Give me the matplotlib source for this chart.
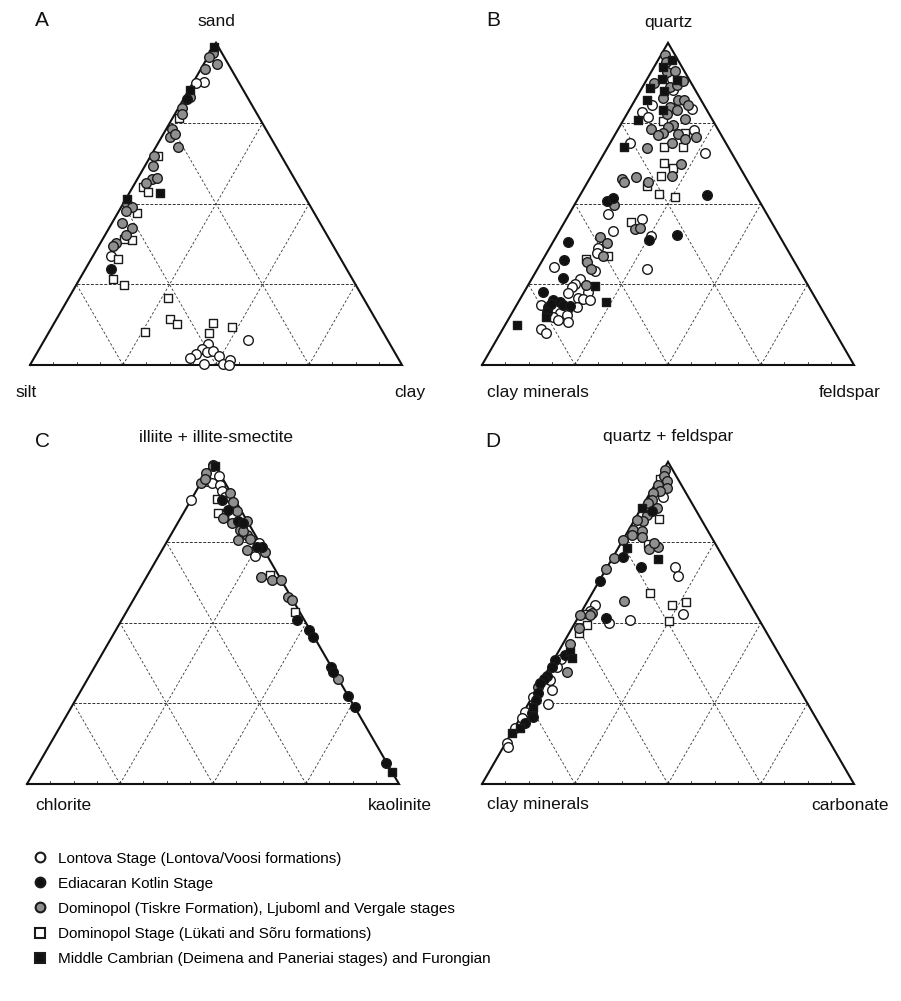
import numpy as np
import matplotlib
matplotlib.use("Agg")
import matplotlib.pyplot as plt
from matplotlib.lines import Line2D

plt.rcParams['font.family'] = ['Liberation Sans', 'DejaVu Sans']

# ---------------- Panel A: sand (top), clay (right), silt = rest (%) ----------------
a_lontova_sand = [87.8, 87.5, 33.9, 7.8, 6.4, 4.9, 3.3, 2.3, 4.1, 4.3, 2.9, 0.3, 0.2, 1.6, 0.0]
a_lontova_clay = [2.9, 0.9, 4.8, 54.8, 44.7, 43.7, 43.0, 41.9, 45.4, 47.1, 49.4, 46.6, 51.9, 53.0, 53.6]
a_kotlin_sand = [82.5, 29.7]
a_kotlin_clay = [0.9, 6.8]
a_tiskre_sand = [96.8, 95.6, 93.5, 91.8, 83.3, 79.7, 78.0, 73.2, 70.9, 71.7, 67.8, 64.9, 61.9, 57.7,
                 58.0, 56.6, 50.0, 48.9, 47.8, 44.0, 42.6, 40.4, 38.0, 37.0]
a_tiskre_clay = [0.7, 0.4, 3.4, 1.1, 1.4, 0.9, 1.8, 1.7, 2.2, 3.1, 6.0, 0.9, 2.0, 3.9,
                 5.1, 2.9, 1.2, 2.9, 1.9, 2.8, 6.0, 5.6, 4.1, 3.9]
a_lukati_sand = [76.6, 65.0, 55.1, 53.8, 47.1, 38.8, 39.1, 32.8, 26.6, 24.8, 20.7, 14.2, 12.7, 10.2, 13.0, 10.0, 11.9]
a_lukati_clay = [1.8, 2.0, 2.7, 4.9, 5.1, 7.9, 5.8, 7.2, 8.9, 12.9, 26.8, 30.5, 33.2, 25.8, 42.6, 43.1, 48.3]
a_middle_sand = [98.8, 85.4, 53.5, 51.5]
a_middle_clay = [0.1, 0.3, 8.2, 0.4]

# ---------------- Panel B: quartz (top), feldspar (right), clay minerals = rest ----------------
b_lontova_qtz = [88.7, 85.4, 80.7, 79.4, 78.4, 76.9, 72.8, 68.9, 65.9, 46.9, 45.3, 41.7, 40.1, 36.2, 34.9, 29.3,
                 30.5, 29.7, 26.6, 25.2, 24.3, 22.3, 22.8, 20.7, 20.4, 20.2, 18.6, 18.1, 17.1, 16.1, 15.0, 15.5,
                 14.0, 13.4, 11.1, 9.8]
b_lontova_fsp = [6.6, 8.7, 5.3, 16.7, 3.7, 6.2, 20.6, 5.4, 27.0, 10.5, 20.3, 14.4, 25.4, 13.0, 13.4, 15.7,
                 4.1, 29.4, 13.0, 12.4, 12.0, 12.0, 17.2, 15.5, 17.0, 18.9, 6.5, 16.4, 14.2, 12.9, 11.7, 15.0,
                 13.5, 16.5, 10.2, 12.2]
b_kotlin_qtz = [52.8, 51.0, 51.8, 38.8, 40.2, 38.3, 32.6, 27.1, 22.8, 20.2, 19.7, 18.1, 18.6, 16.6, 18.3, 19.0]
b_kotlin_fsp = [34.2, 8.2, 9.4, 25.6, 32.2, 4.1, 5.7, 8.2, 4.9, 9.1, 11.0, 8.8, 12.6, 9.1, 14.5, 9.0]
b_tiskre_qtz = [96.3, 93.9, 91.1, 91.4, 87.5, 86.4, 87.0, 88.0, 82.8, 82.3, 82.3, 80.2, 79.2, 80.7, 78.0, 76.3,
                74.5, 74.0, 73.2, 72.1, 71.4, 71.7, 70.7, 70.1, 68.9, 67.3, 62.4, 57.7, 56.9, 58.5, 58.7, 56.9,
                49.7, 42.1, 42.5, 39.8, 37.8, 33.9, 32.1, 29.7, 24.8]
b_tiskre_fsp = [1.1, 2.5, 4.1, 6.2, 2.6, 7.3, 8.8, 10.1, 7.2, 11.6, 13.2, 10.4, 12.7, 15.1, 10.7, 16.4,
                14.2, 13.1, 8.7, 12.7, 11.7, 16.9, 22.2, 19.4, 16.6, 10.8, 22.2, 8.8, 9.7, 12.2, 21.7, 16.3,
                10.5, 20.1, 21.1, 11.8, 14.6, 15.7, 12.3, 14.4, 15.6]
b_lukati_qtz = [75.8, 72.0, 67.8, 67.6, 62.8, 61.1, 58.7, 55.6, 53.1, 52.3, 44.5, 32.8, 33.9]
b_lukati_fsp = [10.8, 18.6, 20.1, 15.1, 17.6, 20.7, 18.8, 16.5, 21.1, 25.7, 17.7, 11.6, 16.8]
b_middle_qtz = [94.7, 92.6, 88.7, 85.9, 88.5, 85.2, 82.3, 79.2, 76.1, 67.6, 24.5, 19.7, 15.0, 12.4]
b_middle_fsp = [3.6, 2.4, 4.0, 2.2, 8.1, 6.4, 3.3, 9.1, 4.0, 4.5, 18.2, 23.5, 9.7, 3.3]

# ---------------- Panel C: illite+I-S (top), kaolinite (right), chlorite = rest ----------------
c_lontova_ill = [95.7, 93.9, 93.4, 92.9, 88.0, 90.8, 89.0, 83.0, 79.4, 74.9, 70.8]
c_lontova_kao = [3.8, 1.4, 3.0, 5.4, 0.0, 6.9, 8.7, 14.0, 18.0, 25.0, 25.9]
c_kotlin_ill = [88.2, 85.1, 81.5, 81.1, 73.7, 73.5, 50.9, 47.8, 45.7, 36.2, 34.9, 27.3, 23.8, 6.6]
c_kotlin_kao = [8.2, 11.6, 16.0, 17.6, 26.2, 25.0, 47.0, 52.0, 53.9, 63.6, 64.7, 72.7, 76.3, 93.2]
c_tiskre_ill = [99.0, 98.8, 96.5, 93.4, 94.6, 90.3, 87.4, 82.5, 84.6, 81.7, 81.0, 78.9, 75.6, 77.3, 76.0, 72.7,
                72.1, 64.2, 63.4, 63.4, 58.2, 57.1, 32.5, 78.4]
c_tiskre_kao = [0.5, 0.7, 0.0, 0.0, 0.5, 9.4, 11.8, 11.5, 14.1, 18.2, 14.5, 17.8, 19.0, 20.4, 21.9, 22.7,
                27.9, 30.7, 34.1, 36.5, 41.1, 42.8, 67.4, 18.9]
c_lukati_ill = [88.4, 84.1, 64.9, 53.3]
c_lukati_kao = [6.8, 9.4, 32.9, 45.4]
c_middle_ill = [98.6, 3.8]
c_middle_kao = [1.2, 96.3]

# ---------------- Panel D: quartz+feldspar (top), carbonate (right), clay minerals = rest ----------------
d_lontova_qf = [89.2, 67.5, 64.6, 52.8, 55.6, 50.1, 50.9, 53.8, 38.7, 32.3, 29.2, 27.1, 24.8, 22.5, 20.4, 17.3,
                12.6, 11.4, 36.4]
d_lontova_carb = [4.1, 18.1, 20.5, 27.7, 2.6, 9.2, 14.3, 2.1, 1.9, 2.0, 4.1, 0.2, 5.4, 0.3, 0.5, 0.2,
                  0.3, 1.4, 1.9]
d_kotlin_qf = [84.6, 70.4, 67.5, 63.1, 51.5, 40.1, 38.5, 36.4, 33.5, 32.5, 31.3, 28.2, 26.1, 22.1, 20.7, 18.9]
d_kotlin_carb = [3.3, 2.6, 8.9, 0.2, 7.6, 2.3, 0.4, 0.5, 0.7, 0.3, 0.0, 1.0, 1.6, 2.3, 3.4, 2.2]
d_tiskre_qf = [97.5, 95.7, 93.9, 92.9, 91.8, 90.8, 90.3, 88.2, 87.2, 85.6, 83.5, 81.5, 82.0, 78.9, 78.4, 77.3,
               76.6, 75.6, 72.9, 73.7, 74.8, 70.1, 66.8, 56.9, 53.0, 52.5, 52.5, 48.4, 43.5, 34.9, 30.0]
d_tiskre_carb = [0.4, 1.1, 2.7, 0.9, 3.9, 2.4, 0.9, 1.5, 1.1, 4.2, 2.5, 2.6, 0.6, 1.2, 3.7, 1.6,
                 4.6, 0.0, 8.5, 10.5, 8.8, 0.3, 0.0, 9.8, 3.0, 0.0, 2.8, 2.0, 1.9, 5.5, 0.0]
d_lukati_qf = [94.6, 82.2, 74.4, 59.2, 55.6, 56.6, 50.6, 52.8, 49.4, 47.0]
d_lukati_carb = [0.5, 6.5, 7.5, 15.6, 23.2, 26.5, 25.0, 1.9, 3.4, 2.7]
d_middle_qf = [85.6, 73.4, 69.8, 41.1, 39.0, 24.0, 17.3, 15.7]
d_middle_carb = [0.1, 2.2, 12.3, 3.1, 4.6, 1.8, 1.6, 0.1]

legend_labels = [
    "Lontova Stage (Lontova/Voosi formations)",
    "Ediacaran Kotlin Stage",
    "Dominopol (Tiskre Formation), Ljuboml and Vergale stages",
    "Dominopol Stage (L\u00fckati and S\u00f5ru formations)",
    "Middle Cambrian (Deimena and Paneriai stages) and Furongian",
]

# ------------------------------------------------------------------
W, H = 901, 1001
fig = plt.figure(figsize=(W / 100, H / 100), dpi=100)
fig.patch.set_facecolor('white')
S3 = np.sqrt(3) / 2
GRAY = '#8f8f8f'
EDGE = '#1a1a1a'

styles = {
    'lontova': dict(marker='o', facecolor='white', edgecolor=EDGE),
    'kotlin': dict(marker='o', facecolor='#111111', edgecolor=EDGE),
    'tiskre': dict(marker='o', facecolor=GRAY, edgecolor=EDGE),
    'lukati': dict(marker='s', facecolor='white', edgecolor=EDGE),
    'middle': dict(marker='s', facecolor='#111111', edgecolor=EDGE),
}


def tern(top, right):
    t = np.asarray(top, float) / 100.0
    r = np.asarray(right, float) / 100.0
    return r + t / 2.0, t * S3


def panel(left_px, bottom_px, side_px=372.0):
    h = side_px * S3
    ax = fig.add_axes([left_px / W, 1 - bottom_px / H, side_px / W, h / H])
    ax.set_xlim(0, 1)
    ax.set_ylim(0, S3)
    ax.axis('off')
    for f in (0.25, 0.5, 0.75):
        ax.plot([f / 2, 1 - f / 2], [f * S3, f * S3], color='#333333', lw=0.7,
                dashes=(3.0, 1.6), zorder=1)
        ax.plot([f, f + (1 - f) / 2], [0, (1 - f) * S3], color='#333333', lw=0.6,
                dashes=(3.0, 2.4), zorder=1)
        ax.plot([1 - f, (1 - f) / 2], [0, (1 - f) * S3], color='#333333', lw=0.6,
                dashes=(3.0, 2.4), zorder=1)
    for k in range(1, 16):
        ax.plot([k / 16, k / 16], [0, 0.008], color='#333333', lw=0.6, zorder=1)
    ax.plot([0, 1, 0.5, 0], [0, 0, S3, 0], color='#111111', lw=1.5,
            solid_joinstyle='miter', clip_on=False, zorder=2)
    return ax


def draw(ax, series):
    for key, top, right in series:
        x, y = tern(top, right)
        st = styles[key]
        s = 48 if st['marker'] == 'o' else 40
        ax.scatter(x, y, s=s, marker=st['marker'], facecolor=st['facecolor'],
                   edgecolor=st['edgecolor'], linewidths=1.0, clip_on=False, zorder=3)


axA = panel(30, 365)
draw(axA, [('lontova', a_lontova_sand, a_lontova_clay), ('lukati', a_lukati_sand, a_lukati_clay),
           ('tiskre', a_tiskre_sand, a_tiskre_clay), ('kotlin', a_kotlin_sand, a_kotlin_clay),
           ('middle', a_middle_sand, a_middle_clay)])
axB = panel(482, 365)
draw(axB, [('lontova', b_lontova_qtz, b_lontova_fsp), ('lukati', b_lukati_qtz, b_lukati_fsp),
           ('tiskre', b_tiskre_qtz, b_tiskre_fsp), ('kotlin', b_kotlin_qtz, b_kotlin_fsp),
           ('middle', b_middle_qtz, b_middle_fsp)])
axC = panel(27, 784)
draw(axC, [('lontova', c_lontova_ill, c_lontova_kao), ('lukati', c_lukati_ill, c_lukati_kao),
           ('tiskre', c_tiskre_ill, c_tiskre_kao), ('kotlin', c_kotlin_ill, c_kotlin_kao),
           ('middle', c_middle_ill, c_middle_kao)])
axD = panel(482, 784)
draw(axD, [('lontova', d_lontova_qf, d_lontova_carb), ('lukati', d_lukati_qf, d_lukati_carb),
           ('tiskre', d_tiskre_qf, d_tiskre_carb), ('kotlin', d_kotlin_qf, d_kotlin_carb),
           ('middle', d_middle_qf, d_middle_carb)])


def ftext(px, py, s, size=12.5, ha='center'):
    fig.text(px / W, 1 - py / H, s, fontsize=size, ha=ha, va='center', color='#111111')


# panel letters
ftext(42, 21, 'A', 15)
ftext(493, 21, 'B', 15)
ftext(42, 442, 'C', 15)
ftext(493, 442, 'D', 15)
# vertex labels
ftext(216, 22, 'sand')
ftext(668, 22, 'quartz')
ftext(26, 392, 'silt')
ftext(410, 392, 'clay')
ftext(538, 392, 'clay minerals')
ftext(850, 392, 'feldspar')
ftext(216, 437, 'illiite + illite-smectite')
ftext(668, 437, 'quartz + feldspar')
ftext(63, 805, 'chlorite')
ftext(400, 805, 'kaolinite')
ftext(538, 805, 'clay minerals')
ftext(850, 805, 'carbonate')

handles = []
for key in ['lontova', 'kotlin', 'tiskre', 'lukati', 'middle']:
    st = styles[key]
    handles.append(Line2D([], [], linestyle='none', marker=st['marker'],
                          markersize=7 if st['marker'] == 'o' else 7.5,
                          markerfacecolor=st['facecolor'], markeredgecolor=st['edgecolor'],
                          markeredgewidth=1.5))
fig.legend(handles, legend_labels, loc='upper left', bbox_to_anchor=(32.4 / W, 1 - 851.5 / H),
           frameon=False, fontsize=11, labelspacing=0.73, handletextpad=0.68,
           handlelength=1.0, borderaxespad=0, borderpad=0)

fig.savefig('out.png', dpi=100, facecolor='white')
